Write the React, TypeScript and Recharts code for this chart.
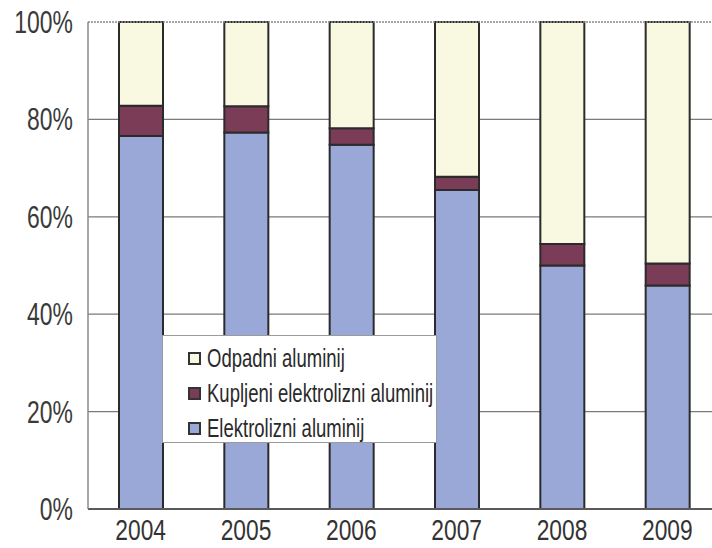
import React from "react";
import {
  BarChart,
  Bar,
  XAxis,
  YAxis,
  CartesianGrid,
  ReferenceLine,
} from "recharts";

const years = ["2004", "2005", "2006", "2007", "2008", "2009"];
const elektrolizni = [76.6, 77.3, 74.8, 65.5, 50.0, 45.9];
const kupljeni = [6.2, 5.4, 3.4, 2.7, 4.4, 4.5];
const odpadni = [17.2, 17.3, 21.8, 31.8, 45.6, 49.6];
const yTicks = [0, 20, 40, 60, 80, 100];

const series = [
  { key: "elektrolizni", label: "Elektrolizni aluminij", color: "#9aa8d8" },
  { key: "kupljeni", label: "Kupljeni elektrolizni aluminij", color: "#7b3c57" },
  { key: "odpadni", label: "Odpadni aluminij", color: "#f9f9e2" },
];

const data = years.map((year, i) => ({
  year,
  elektrolizni: elektrolizni[i],
  kupljeni: kupljeni[i],
  odpadni: odpadni[i],
}));

const FONT = '"Liberation Sans", Arial, sans-serif';
const SQUEEZE = 0.74;

// condensed-looking tick text (no narrow font installed)
function XTick(props: any) {
  const { x, y, payload } = props;
  return (
    <text
      transform={`translate(${x},${y + 31}) scale(${SQUEEZE + 0.02},1)`}
      textAnchor="middle"
      fontSize={30}
      fontFamily={FONT}
      fill="#333"
    >
      {payload.value}
    </text>
  );
}

function YTick(props: any) {
  const { x, y, payload } = props;
  return (
    <text
      transform={`translate(${x},${y + 11}) scale(${SQUEEZE},1)`}
      textAnchor="end"
      fontSize={31}
      fontFamily={FONT}
      fill="#3a3a3a"
    >
      {`${payload.value}%`}
    </text>
  );
}

function LegendBox() {
  const items = [...series].reverse();
  return (
    <div
      style={{
        position: "absolute",
        left: 162,
        top: 335,
        width: 275,
        height: 108,
        boxSizing: "border-box",
        background: "#ffffff",
        border: "1px solid #9a9a9a",
        padding: "5px 0 0 25px",
        fontFamily: FONT,
        fontSize: 25,
        color: "#2a2a2a",
      }}
    >
      {items.map((s) => (
        <div
          key={s.key}
          style={{ display: "flex", alignItems: "center", height: 35, whiteSpace: "nowrap" }}
        >
          <span
            style={{
              display: "inline-block",
              width: 9,
              height: 9,
              background: s.color,
              border: "2px solid #333",
              marginRight: 6,
              flex: "none",
            }}
          />
          <span
            style={{
              display: "inline-block",
              transform: `scaleX(${SQUEEZE})`,
              transformOrigin: "left center",
            }}
          >
            {s.label}
          </span>
        </div>
      ))}
    </div>
  );
}

export default function App() {
  return (
    <div
      style={{
        position: "fixed",
        left: 0,
        top: 0,
        width: 712,
        height: 548,
        overflow: "hidden",
        background: "#ffffff",
      }}
    >
      <BarChart
        width={720}
        height={548}
        data={data}
        margin={{ top: 22, right: 0, bottom: 0, left: 0 }}
        barSize={44}
      >
        <CartesianGrid
          vertical={false}
          horizontalValues={[20, 40, 60, 80]}
          stroke="#7a7a7a"
          strokeWidth={1.2}
        />
        <ReferenceLine y={100} stroke="#8a8a8a" strokeDasharray="2 1" strokeWidth={1.5} />
        <XAxis
          dataKey="year"
          height={39}
          tickLine={false}
          tickSize={0}
          tickMargin={0}
          axisLine={{ stroke: "#5a5a5a", strokeWidth: 2 }}
          tick={<XTick />}
        />
        <YAxis
          width={88}
          domain={[0, 100]}
          ticks={yTicks}
          tickLine={false}
          tickSize={0}
          tickMargin={15}
          axisLine={{ stroke: "#8a8a8a", strokeWidth: 1.5 }}
          tick={<YTick />}
        />
        {series.map((s) => (
          <Bar
            key={s.key}
            dataKey={s.key}
            name={s.label}
            stackId="a"
            fill={s.color}
            stroke="#2b2b2b"
            strokeWidth={2}
            isAnimationActive={false}
          />
        ))}
      </BarChart>
      <LegendBox />
    </div>
  );
}
